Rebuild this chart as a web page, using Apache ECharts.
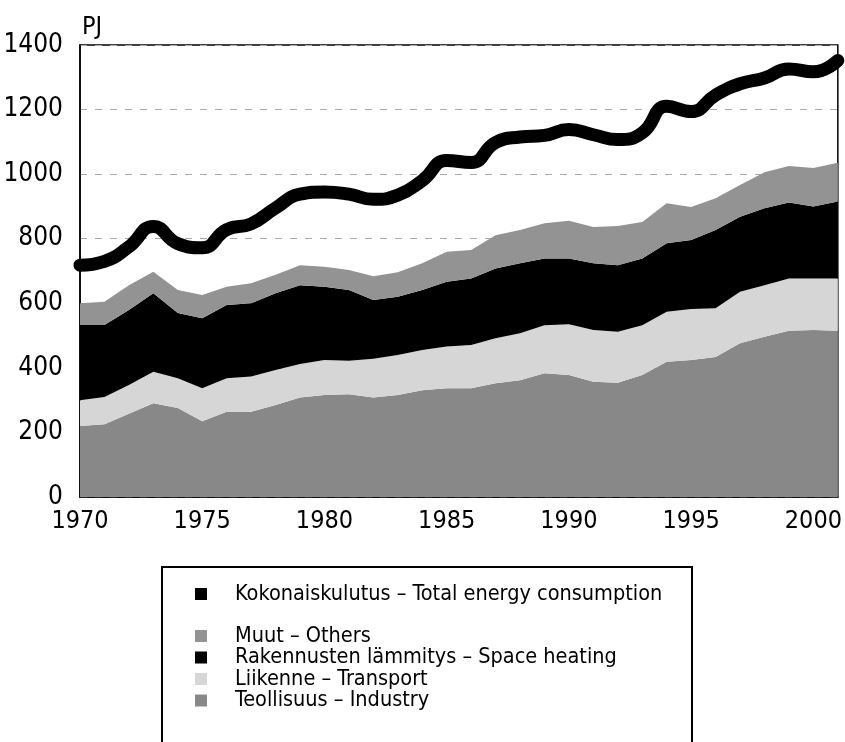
<!DOCTYPE html>
<html>
<head>
<meta charset="utf-8">
<script src="https://cdn.jsdelivr.net/npm/echarts@6/dist/echarts.min.js"></script>
<style>
html, body { margin: 0; padding: 0; background: #fff; }
#chart { width: 845px; height: 742px; }
</style>
</head>
<body>
<div id="chart"></div>
<script>
// vuodet
const years = ['1970','1971','1972','1973','1974','1975','1976','1977','1978','1979',
	'1980','1981','1982','1983','1984','1985','1986','1987','1988','1989',
	'1990','1991','1992','1993','1994','1995','1996','1997','1998','1999','2000','2001']

// PJ, luettu kuvasta
const industry = [220,225,258,290,276,235,264,264,285,308,316,318,308,316,331,337,337,352,362,383,
	378,357,354,378,419,424,434,476,496,515,517,515]
const transport = [80,85,89,98,92,102,104,109,108,104,108,104,120,124,124,129,134,140,145,149,
	157,160,158,154,155,158,151,160,160,162,160,162]
const heating = [233,223,232,243,202,217,227,227,238,244,227,219,182,180,186,201,206,216,217,207,
	204,207,206,207,212,214,242,232,238,235,223,238]
const others = [67,72,77,67,71,72,56,62,57,62,62,62,74,76,83,93,88,103,103,109,
	117,112,121,113,124,102,98,98,112,113,119,120]
const total = [718,730,775,838,785,772,828,846,895,938,945,938,922,935,980,1042,1036,1098,1115,1120,
	1138,1122,1107,1128,1210,1194,1245,1280,1298,1326,1317,1352]

const names = {
	total: 'Kokonaiskulutus – Total energy consumption',
	others: 'Muut – Others',
	heating: 'Rakennusten lämmitys – Space heating',
	transport: 'Liikenne – Transport',
	industry: 'Teollisuus – Industry'
}

const chart = echarts.init(document.getElementById('chart'))
const font = '"DejaVu Sans Condensed", "Liberation Sans", sans-serif'

// pinottu alue
function areaSeries(name, data, color) {
	return {
		name: name,
		type: 'line',
		stack: 'kaikki',
		data: data,
		showSymbol: false,
		smooth: false,
		lineStyle: { width: 0 },
		itemStyle: { color: color },
		areaStyle: { color: color, opacity: 1 },
		z: 2
	}
}

// yksi selite per rivi
function legendRow(name, top) {
	return {
		orient: 'vertical',
		left: 190, top: top,
		icon: 'rect', itemWidth: 12, itemHeight: 12,
		textStyle: {
			fontFamily: font,
			fontSize: 21.5,
			color: '#000',
			padding: [0, 0, 0, 23]
		},
		data: [name]
	}
}

const option = {
	animation: false,
	backgroundColor: '#fff',
	grid: {
		left: 80, right: 4, top: 45, bottom: 245,
		show: true, borderColor: '#000', borderWidth: 1.5
	},
	xAxis: {
		type: 'category',
		data: years,
		boundaryGap: false,
		axisLine: { lineStyle: { color: '#000', width: 1.5 } },
		axisTick: { show: false },
		axisLabel: { interval: 4, color: '#000', fontFamily: font, fontSize: 25, margin: 12 },
		splitLine: { show: false }
	},
	yAxis: {
		type: 'value',
		min: 0, max: 1400, interval: 200,
		name: 'PJ',
		nameLocation: 'end',
		nameGap: 5,
		nameTextStyle: { color: '#000', fontFamily: font, fontSize: 25, align: 'left', padding: [0, 0, 0, 2] },
		axisLine: { show: true, lineStyle: { color: '#000', width: 1.5 } },
		axisTick: { show: false },
		axisLabel: { color: '#000', fontFamily: font, fontSize: 26, margin: 17, formatter: function (v) { return String(v) } },
		splitLine: { show: true, lineStyle: { color: '#aaa', type: [7, 8], width: 1 } }
	},
	legend: [
		legendRow(names.total, 578),
		legendRow(names.others, 620),
		legendRow(names.heating, 641.5),
		legendRow(names.transport, 663),
		legendRow(names.industry, 684.5)
	],
	graphic: [{
		type: 'rect',
		shape: { x: 162, y: 567, width: 530, height: 200 },
		style: { fill: 'none', stroke: '#000', lineWidth: 2 },
		silent: true
	}],
	series: [
		areaSeries(names.industry, industry, '#888888'),
		areaSeries(names.transport, transport, '#d6d6d6'),
		areaSeries(names.heating, heating, '#000'),
		areaSeries(names.others, others, '#939393'),
		{
			name: names.total,
			type: 'line',
			data: total,
			smooth: 0.5,
			showSymbol: false,
			itemStyle: { color: '#000' },
			lineStyle: { color: '#000', width: 13, cap: 'round', join: 'round' },
			z: 5
		}
	]
}

chart.setOption(option)
</script>
</body>
</html>
